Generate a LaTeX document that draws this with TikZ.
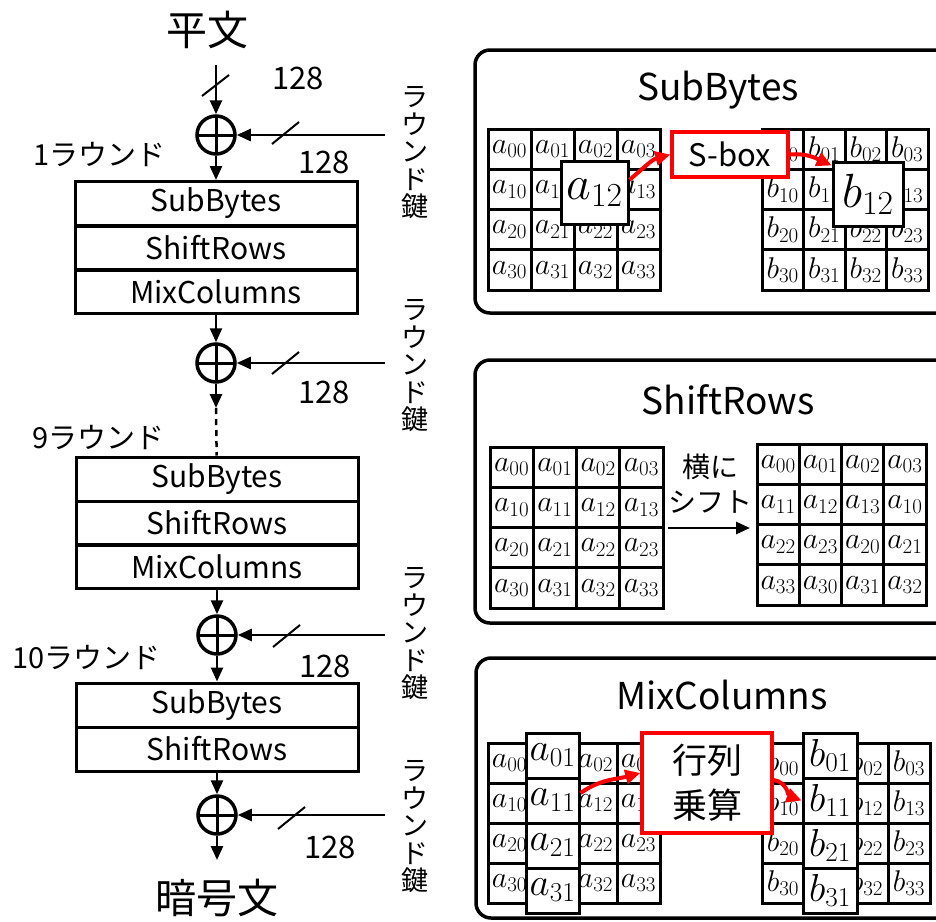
\RequirePackage{fix-cm}
\documentclass[tikz,border=0pt]{standalone}
\usepackage[no-math]{fontspec}
\newfontfamily\jp{Noto Sans CJK JP}
\usetikzlibrary{arrows.meta}
\newcommand\mygrid[7]{%
 \foreach \r in {0,...,3}{\foreach \c in {0,...,3}{%
   \pgfmathtruncatemacro\cc{mod(\c+#7*\r,4)}%
   \node[cell,minimum width=#4pt,minimum height=#5pt] (#1\r\c) at ({#2+#4*(\c+0.5)},{#3+#5*(\r+0.5)}) {$#6_{\r\cc}$};
 }}}
\begin{document}
\begin{tikzpicture}[x=1pt,y=-1pt,
  arr/.style={line width=2.5pt,-{Triangle[length=14pt,width=12pt]}},
  rarr/.style={red,line width=4pt,-{Triangle[length=15pt,width=14pt]}},
  xor/.style={circle,draw,line width=3.5pt,minimum size=38pt,inner sep=0pt,
    path picture={\draw[line width=3pt] (path picture bounding box.north)--(path picture bounding box.south)
      (path picture bounding box.west)--(path picture bounding box.east);}},
  rowbox/.style={draw,line width=3pt,minimum width=282pt,minimum height=44pt,inner sep=0pt,font=\jp\fontsize{30}{32}\selectfont},
  lbl/.style={inner sep=0pt,font=\jp\fontsize{29}{31}\selectfont},
  num/.style={inner sep=0pt,font=\jp\fontsize{31}{33}\selectfont},
  keytxt/.style={inner sep=0pt,align=center,font=\jp\fontsize{27}{27.5}\selectfont},
  big/.style={inner sep=0pt,font=\jp\fontsize{41}{43}\selectfont},
  title/.style={inner sep=0pt,font=\jp\fontsize{37}{39}\selectfont},
  panel/.style={draw,line width=3.5pt,rounded corners=15pt},
  cell/.style={draw,line width=3pt,inner sep=0pt,font=\fontsize{30}{32}\selectfont},
  hbox/.style={draw,line width=3pt,inner sep=0pt,fill=white},
  redbox/.style={draw=red,line width=3.5pt,inner sep=0pt,fill=white}
]
\useasboundingbox (0,0) rectangle (936,921);

% ---------- left column ----------
\node[big] (pt) at (207,30) {平文};
\coordinate (in1) at (216,65);
\node[xor] (x1) at (216,135) {};
\node[rowbox] (b1s) at (216,203.5) {SubBytes};
\node[rowbox] (b1h) at (216,248) {ShiftRows};
\node[rowbox] (b1m) at (216,291.5) {MixColumns};
\node[xor] (x2) at (216,363) {};
\coordinate (d1) at (216,408);
\node[rowbox] (b2s) at (217,479) {SubBytes};
\node[rowbox] (b2h) at (217,523) {ShiftRows};
\node[rowbox] (b2m) at (217,566.5) {MixColumns};
\node[xor] (x3) at (217,635) {};
\node[rowbox] (b3s) at (217,705) {SubBytes};
\node[rowbox] (b3h) at (217,749) {ShiftRows};
\node[xor] (x4) at (217,815) {};
\coordinate (out) at (217,860);
\node[big] (ct) at (217,898) {暗号文};

\coordinate (k1) at (385,135);
\coordinate (k2) at (385,363);
\coordinate (k3) at (385,635);
\coordinate (k4) at (385,815);

\draw[arr] (in1) -- (x1);
\draw[arr] (x1) -- (b1s);
\draw[arr] (b1m) -- (x2);
\draw[arr] (x2) -- (d1);
\draw[line width=2.5pt,dash pattern=on 6pt off 5pt] (d1) -- (b2s);
\draw[arr] (b2m) -- (x3);
\draw[arr] (x3) -- (b3s);
\draw[arr] (b3h) -- (x4);
\draw[arr] (x4) -- (out);
\draw[arr] (k1) -- (x1);
\draw[arr] (k2) -- (x2);
\draw[arr] (k3) -- (x3);
\draw[arr] (k4) -- (x4);

% slashes
\draw[line width=2pt] (202,96) -- (229,75);
\draw[line width=2pt] (272,144) -- (299,122);
\draw[line width=2pt] (272,374) -- (299,352);
\draw[line width=2pt] (273,647) -- (300,625);
\draw[line width=2pt] (278,829) -- (305,807);

% labels
\node[num] (n1) at (298,78) {128};
\node[num] (n2) at (324,162) {128};
\node[num] (n3) at (324,392) {128};
\node[num] (n4) at (325,666) {128};
\node[num] (n5) at (330,847) {128};
\node[lbl,anchor=west] (r1) at (33,155) {1ラウンド};
\node[lbl,anchor=west] (r9) at (32,438) {9ラウンド};
\node[lbl,anchor=west] (r10) at (12,657) {10ラウンド};
\node[keytxt] (kt1) at (415,153) {ラ\\ウ\\ン\\ド\\鍵};
\node[keytxt] (kt2) at (415,366) {ラ\\ウ\\ン\\ド\\鍵};
\node[keytxt] (kt3) at (415,634) {ラ\\ウ\\ン\\ド\\鍵};
\node[keytxt] (kt4) at (415,827) {ラ\\ウ\\ン\\ド\\鍵};

% ---------- SubBytes panel ----------
\draw[panel] (475,50) rectangle (965,313);
\node[title] (t1) at (718,90) {SubBytes};
\mygrid{sa}{488}{129}{43}{40.25}{a}{0}
\mygrid{sb}{762}{129}{41.5}{40.25}{b}{0}
\node[hbox,minimum width=67pt,minimum height=63pt,font=\fontsize{48}{50}\selectfont] (a12) at (594.5,192.5) {$a_{12}$};
\node[hbox,minimum width=70pt,minimum height=64pt,font=\fontsize{48}{50}\selectfont] (b12) at (868,194) {$b_{12}$};
\node[redbox,minimum width=116pt,minimum height=45pt,font=\jp\fontsize{31}{33}\selectfont] (sbox) at (730,154.5) {S-box};
\draw[rarr] (a12.20) to[out=40,in=195] (sbox.west);
\draw[rarr] (sbox.east) to[out=5,in=155] ([yshift=-5pt]b12.north west);

% ---------- ShiftRows panel ----------
\draw[panel] (475,360) rectangle (965,623);
\node[title] (t2) at (728,400) {ShiftRows};
\mygrid{hl}{490}{447}{43.25}{40.25}{a}{0}
\mygrid{hr}{757}{444}{42.25}{40.25}{a}{1}
\coordinate (s1) at (668,528);
\coordinate (s2) at (750,528);
\draw[arr] (s1) -- (s2);
\node[lbl,font=\jp\fontsize{28}{30}\selectfont] (yn) at (710,467) {横に};
\node[lbl,font=\jp\fontsize{28}{30}\selectfont] (sf) at (710,502) {シフト};

% ---------- MixColumns panel ----------
\draw[panel] (476,658) rectangle (965,918);
\node[title] (t3) at (722,695) {MixColumns};
\mygrid{ma}{488}{743}{43}{40}{a}{0}
\mygrid{mb}{762}{743}{42}{40}{b}{0}
\foreach \r/\yy in {0/755.5,1/800.5,2/845.5,3/890.5}{
  \node[hbox,minimum width=53pt,minimum height=45pt,font=\fontsize{39}{41}\selectfont] (mca\r) at (552.5,\yy) {$a_{\r1}$};
  \node[hbox,minimum width=54pt,minimum height=45pt,font=\fontsize{39}{41}\selectfont] (mcb\r) at (830,\yy) {$b_{\r1}$};
}
\node[redbox,minimum width=130pt,minimum height=100pt,align=center,font=\jp\fontsize{35}{45}\selectfont] (mat) at (707,783) {行列\\乗算};
\draw[rarr] (mca1.15) to[out=35,in=195] ([yshift=10pt]mat.west);
\draw[rarr] ([yshift=3pt]mat.east) to[out=-10,in=160] (mcb1.west);
\end{tikzpicture}
\end{document}
